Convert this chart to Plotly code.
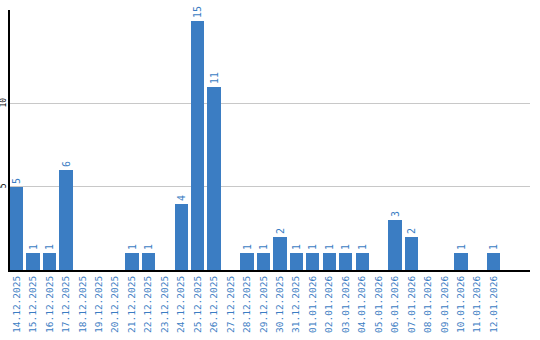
import plotly.graph_objects as go

dates = ["14.12.2025", "15.12.2025", "16.12.2025", "17.12.2025", "18.12.2025",
         "19.12.2025", "20.12.2025", "21.12.2025", "22.12.2025", "23.12.2025",
         "24.12.2025", "25.12.2025", "26.12.2025", "27.12.2025", "28.12.2025",
         "29.12.2025", "30.12.2025", "31.12.2025", "01.01.2026", "02.01.2026",
         "03.01.2026", "04.01.2026", "05.01.2026", "06.01.2026", "07.01.2026",
         "08.01.2026", "09.01.2026", "10.01.2026", "11.01.2026", "12.01.2026"]
counts = [5, 1, 1, 6, 0, 0, 0, 1, 1, 0, 4, 15, 11, 0, 1, 1, 2, 1, 1, 1,
          1, 1, 0, 3, 2, 0, 0, 1, 0, 1]
ytick_vals = [5, 10]

blue = "#3b7dc3"
labels = [str(v) if v > 0 else "" for v in counts]

fig = go.Figure(go.Bar(
    x=list(range(len(dates))), y=counts,
    marker=dict(color=blue, line=dict(width=0)),
    width=0.81,
    text=labels, textposition="outside", textangle=-90,
    textfont=dict(family="DejaVu Sans Mono", size=10, color=blue),
    cliponaxis=False,
))

fig.update_layout(
    width=540, height=340,
    margin=dict(l=10, r=10, t=10, b=70),
    paper_bgcolor="white", plot_bgcolor="white",
    showlegend=False,
    bargap=0,
    xaxis=dict(
        tickmode="array", tickvals=list(range(len(dates))), ticktext=dates,
        tickangle=-90, range=[-0.405, 31.2], automargin=False,
        tickfont=dict(family="DejaVu Sans Mono", size=9.5, color=blue),
        showline=True, linecolor="black", linewidth=2,
        showgrid=False, ticks="", zeroline=False,
    ),
    yaxis=dict(
        range=[0, 15.66], tickmode="array", tickvals=ytick_vals,
        ticktext=[str(v) for v in ytick_vals],
        tickangle=-90, automargin=False, ticklabelstandoff=-1,
        tickfont=dict(family="DejaVu Sans Mono", size=8, color="black"),
        showline=True, linecolor="black", linewidth=1.5,
        showgrid=True, gridcolor="#c8c8c8", gridwidth=1,
        zeroline=False, ticks="", ticklen=0,
    ),
)

fig.write_html("out.html")
